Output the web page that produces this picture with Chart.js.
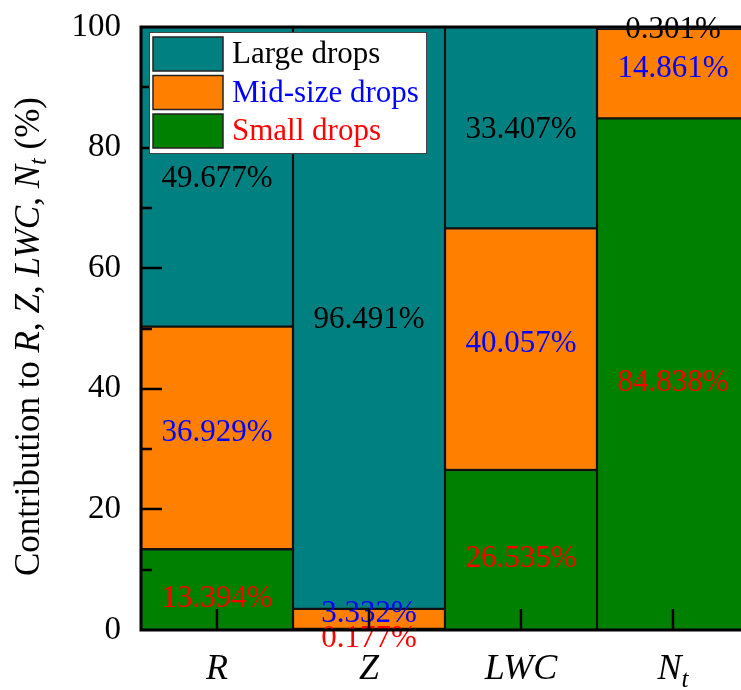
<!DOCTYPE html>
<html lang="en">
<head>
  <meta charset="UTF-8" />
  <title>Drop size contribution</title>
  <script src="https://cdn.jsdelivr.net/npm/chart.js"></script>
  <style>
    html, body { margin: 0; padding: 0; background: #fff; overflow: hidden; }
  </style>
</head>
<body>
  <canvas id="dropChart" width="760" height="690"></canvas>

  <script>
    // data (%)
    const categories = ['R', 'Z', 'LWC', 'N_t'];
    const seriesNames = ['Large drops', 'Mid-size drops', 'Small drops'];
    const smallDrops = [13.394, 0.177, 26.535, 84.838];
    const midDrops = [36.929, 3.332, 40.057, 14.861];
    const largeDrops = [49.677, 96.491, 33.407, 0.301];
    const yTicks = [0, 20, 40, 60, 80, 100];

    const SERIF = "'Liberation Serif', 'Times New Roman', serif";
    const TEAL = '#008080', ORANGE = '#ff8000', GREEN = '#008000';

    // draw text made of parts: { t, it, sub }
    function richWidth(ctx, parts, size) {
      let w = 0;
      parts.forEach(p => {
        const s = p.sub ? size * 0.7 : size;
        ctx.font = (p.it ? 'italic ' : '') + s + 'px ' + SERIF;
        w += ctx.measureText(p.t).width;
      });
      return w;
    }
    function drawRich(ctx, parts, x, y, size, color) {
      const w = richWidth(ctx, parts, size);
      let cx = x - w / 2;
      ctx.fillStyle = color;
      ctx.textAlign = 'left';
      ctx.textBaseline = 'middle';
      parts.forEach(p => {
        const s = p.sub ? size * 0.7 : size;
        ctx.font = (p.it ? 'italic ' : '') + s + 'px ' + SERIF;
        ctx.fillText(p.t, cx, p.sub ? y + size * 0.28 : y);
        cx += ctx.measureText(p.t).width;
      });
    }
    function parseLabel(str) {
      const [main, sub] = str.split('_');
      const parts = [{ t: main, it: true }];
      if (sub) parts.push({ t: sub, it: true, sub: true });
      return parts;
    }

    const titleParts = [
      { t: 'Contribution to ' }, { t: 'R', it: true }, { t: ', ' },
      { t: 'Z', it: true }, { t: ', ' }, { t: 'LWC', it: true }, { t: ', ' },
      { t: 'N', it: true }, { t: 't', it: true, sub: true }, { t: ' (%)' }
    ];

    const labelColors = ['#ff0000', '#0000ff', '#000000']; // small, mid, large
    const labelShift = [9, -5, 2];

    const decorPlugin = {
      id: 'decor',
      afterDatasetsDraw(chart) {
        const ctx = chart.ctx;
        const area = chart.chartArea;
        const x = chart.scales.x, y = chart.scales.y;
        ctx.save();

        // segment values
        ctx.font = '31px ' + SERIF;
        ctx.textAlign = 'center';
        ctx.textBaseline = 'middle';
        chart.data.datasets.forEach((ds, i) => {
          const meta = chart.getDatasetMeta(i);
          ctx.fillStyle = labelColors[i];
          meta.data.forEach((bar, j) => {
            const cy = (bar.y + bar.base) / 2 + labelShift[i];
            ctx.fillText(ds.data[j].toFixed(3) + '%', bar.x, cy);
          });
        });

        // frame
        ctx.strokeStyle = '#000';
        ctx.lineWidth = 3;
        ctx.beginPath();
        ctx.moveTo(area.right + 2, area.top);
        ctx.lineTo(area.left, area.top);
        ctx.lineTo(area.left, area.bottom);
        ctx.lineTo(area.right + 2, area.bottom);
        ctx.stroke();

        // inward ticks
        ctx.lineWidth = 2.5;
        ctx.beginPath();
        for (let v = 10; v < 100; v += 10) {
          const py = Math.round(y.getPixelForValue(v));
          const len = v % 20 === 0 ? 21 : 11;
          ctx.moveTo(area.left, py);
          ctx.lineTo(area.left + len, py);
        }
        categories.forEach((c, j) => {
          const px = Math.round(x.getPixelForValue(j));
          ctx.moveTo(px, area.bottom);
          ctx.lineTo(px, area.bottom - 21);
        });
        ctx.stroke();

        // category labels
        categories.forEach((c, j) => {
          drawRich(ctx, parseLabel(c), x.getPixelForValue(j), 670, 36, '#000');
        });

        // y title
        ctx.translate(30, (area.top + area.bottom) / 2 + 8);
        ctx.rotate(-Math.PI / 2);
        drawRich(ctx, titleParts, 0, 0, 35, '#000');
        ctx.restore();

        // legend
        ctx.save();
        const lx = 149, ly = 32, rowH = 38.5;
        ctx.fillStyle = '#fff';
        ctx.fillRect(lx, ly, 277, 121);
        ctx.strokeStyle = '#444';
        ctx.lineWidth = 1;
        ctx.strokeRect(lx + 0.5, ly + 0.5, 277, 121);
        const order = [2, 1, 0];
        order.forEach((di, r) => {
          const ds = chart.data.datasets[di];
          const by = ly + 5 + r * rowH;
          ctx.fillStyle = ds.backgroundColor;
          ctx.fillRect(lx + 4, by, 70, 34);
          ctx.strokeStyle = '#222';
          ctx.lineWidth = 1.5;
          ctx.strokeRect(lx + 4, by, 70, 34);
          ctx.fillStyle = labelColors[di];
          ctx.font = '31px ' + SERIF;
          ctx.textAlign = 'left';
          ctx.textBaseline = 'middle';
          ctx.fillText(ds.label, lx + 83, by + 18);
        });
        ctx.restore();
      }
    };

    const barStyle = {
      borderColor: '#111',
      borderWidth: 1.5,
      borderSkipped: false,
      barPercentage: 1,
      categoryPercentage: 1
    };

    new Chart(document.getElementById('dropChart'), {
      type: 'bar',
      data: {
        labels: categories,
        datasets: [
          { label: seriesNames[2], data: smallDrops, backgroundColor: GREEN, ...barStyle },
          { label: seriesNames[1], data: midDrops, backgroundColor: ORANGE, ...barStyle },
          { label: seriesNames[0], data: largeDrops, backgroundColor: TEAL, ...barStyle }
        ]
      },
      options: {
        responsive: false,
        animation: false,
        devicePixelRatio: 1,
        layout: { padding: { left: 0, right: 11, top: 27, bottom: 0 } },
        plugins: {
          legend: { display: false },
          tooltip: { enabled: false }
        },
        scales: {
          x: {
            stacked: true,
            grid: { display: false },
            border: { display: false },
            ticks: { display: false },
            afterFit: s => { s.height = 60; }
          },
          y: {
            stacked: true,
            min: 0,
            max: 100,
            afterBuildTicks: s => { s.ticks = yTicks.map(v => ({ value: v })); },
            ticks: {
              color: '#000',
              padding: 20,
              font: { family: SERIF, size: 33 }
            },
            grid: { display: false, drawTicks: false },
            border: { display: false },
            afterFit: s => { s.width = 141; s.paddingTop = 0; s.paddingBottom = 0; }
          }
        }
      },
      plugins: [decorPlugin]
    });
  </script>
</body>
</html>
